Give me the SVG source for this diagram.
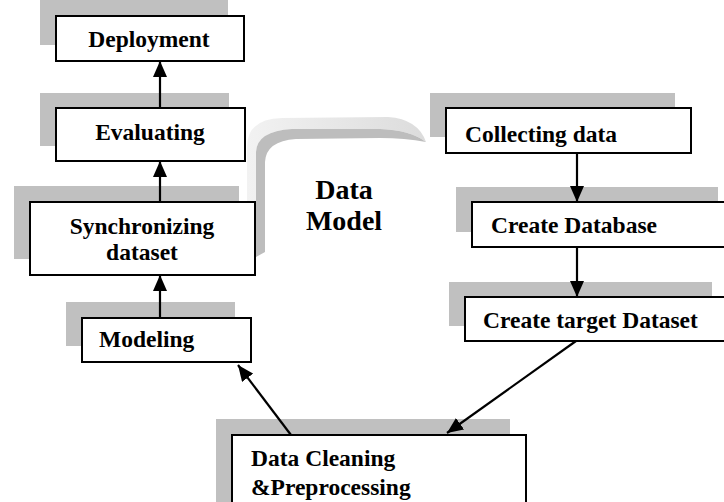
<svg xmlns="http://www.w3.org/2000/svg" width="724" height="502" viewBox="0 0 724 502">
<defs>
<style>
.sh{fill:#c0c0c0;stroke:none}
.bx{fill:#ffffff;stroke:#000000;stroke-width:2}
.t{font-family:"Liberation Serif","Times New Roman",serif;font-weight:bold;font-size:23.5px;fill:#000000}
.c{text-anchor:middle}
.big{font-family:"Liberation Serif","Times New Roman",serif;font-weight:bold;font-size:28px;fill:#000000;text-anchor:middle}
.ar{stroke:#000000;stroke-width:2.2;fill:none;marker-end:url(#ah)}
</style>
<marker id="ah" markerUnits="userSpaceOnUse" markerWidth="16" markerHeight="14" refX="16" refY="7" orient="auto">
<path d="M0,0 L16,7 L0,14 Z" fill="#000000"/>
</marker>
<linearGradient id="lg" x1="0" y1="0" x2="1" y2="0">
<stop offset="0" stop-color="#f2f2f2"/>
<stop offset="1" stop-color="#dcdcdc"/>
</linearGradient>
</defs>
<rect width="724" height="502" fill="#ffffff"/>

<g id="data-model">
<path d="M247,253 L247,147 Q247,119 282,118 L388,117 Q418,119 426,142 Q410,130 380,129 L292,129 Q257,131 256,152 L256,257 Z" fill="url(#lg)"/>
<path d="M256,257 L256,152 Q257,131 292,129 L380,129 Q410,130 426,142 Q405,138 380,138 L296,139 Q266,141 265,162 L265,252 Z" fill="#bdbdbd"/>
<text class="big" x="344" y="199">Data</text>
<text class="big" x="344" y="230">Model</text>
</g>

<g id="deployment">
<rect class="sh" x="40" y="0" width="188" height="45"/>
<rect class="bx" x="56" y="16" width="188" height="45"/>
<text class="t c" x="149" y="47">Deployment</text>
</g>

<g id="evaluating">
<rect class="sh" x="40" y="93" width="189" height="53"/>
<rect class="bx" x="56" y="108" width="189" height="53"/>
<text class="t c" x="150" y="140">Evaluating</text>
</g>

<g id="synchronizing">
<rect class="sh" x="14" y="186" width="225" height="73"/>
<rect class="bx" x="30" y="202" width="225" height="73"/>
<text class="t c" x="142" y="234">Synchronizing</text>
<text class="t c" x="142" y="260">dataset</text>
</g>

<g id="modeling">
<rect class="sh" x="66" y="302" width="169" height="44"/>
<rect class="bx" x="82" y="318" width="169" height="44"/>
<text class="t" x="99" y="347">Modeling</text>
</g>

<g id="collecting">
<rect class="sh" x="430" y="93" width="245" height="44"/>
<rect class="bx" x="446" y="108" width="245" height="45"/>
<text class="t" x="465" y="142">Collecting data</text>
</g>

<g id="create-database">
<rect class="sh" x="456" y="187" width="262" height="45"/>
<rect class="bx" x="472" y="202" width="262" height="45"/>
<text class="t" x="491" y="233">Create Database</text>
</g>

<g id="create-target">
<rect class="sh" x="449" y="282" width="263" height="44"/>
<rect class="bx" x="465" y="297" width="263" height="44"/>
<text class="t" x="483" y="328">Create target Dataset</text>
</g>

<g id="data-cleaning">
<rect class="sh" x="216" y="419" width="294" height="90"/>
<rect class="bx" x="232" y="435" width="294" height="90"/>
<text class="t" x="251" y="466">Data Cleaning</text>
<text class="t" x="251" y="495">&amp;Preprocessing</text>
</g>

<g id="connectors">
<line class="ar" x1="160" y1="108" x2="160" y2="61"/>
<line class="ar" x1="160" y1="202" x2="160" y2="161"/>
<line class="ar" x1="160" y1="318" x2="160" y2="275"/>
<line class="ar" x1="577" y1="153" x2="577" y2="202"/>
<line class="ar" x1="577" y1="247" x2="577" y2="297"/>
<line class="ar" x1="576" y1="341" x2="447" y2="433"/>
<line class="ar" x1="291" y1="435" x2="238" y2="365"/>
</g>
</svg>
